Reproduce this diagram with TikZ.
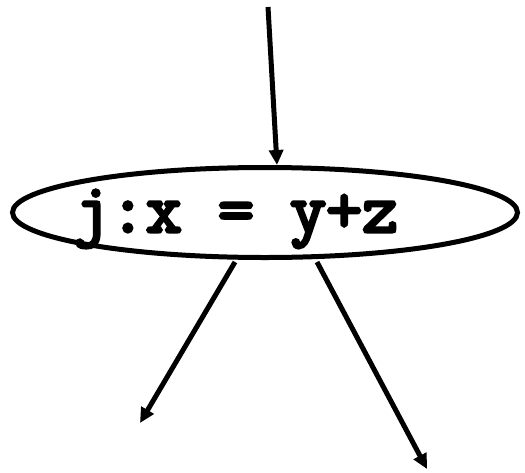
\documentclass[tikz,border=0pt]{standalone}
\usepackage{fontspec}
\newfontfamily\codefont{Latin Modern Mono}[FakeBold=4.5]
\usetikzlibrary{arrows.meta,shapes.geometric}
\begin{document}
\begin{tikzpicture}[x=1pt,y=-1pt,
  arr/.style={line width=5pt,-{Triangle[length=15pt,width=14pt]}},
  lbl/.style={font=\fontsize{70}{80}\selectfont\codefont,inner sep=0pt,anchor=base}]
\useasboundingbox (0,0) rectangle (525,472);
\node[ellipse,draw,line width=5pt,minimum width=505pt,minimum height=90pt,inner sep=0pt] (e) at (265,212.5) {};
\node[lbl] (t) at (236,232) {j:x = y+z};
\coordinate (src) at (268,7);
\coordinate (tin) at (277,165);
\coordinate (o1) at (235,262);
\coordinate (o2) at (317,262);
\coordinate (d1) at (140,423);
\coordinate (d2) at (427,469);
\draw[arr] (src) -- (tin);
\draw[arr] (o1) -- (d1);
\draw[arr] (o2) -- (d2);
\end{tikzpicture}
\end{document}
